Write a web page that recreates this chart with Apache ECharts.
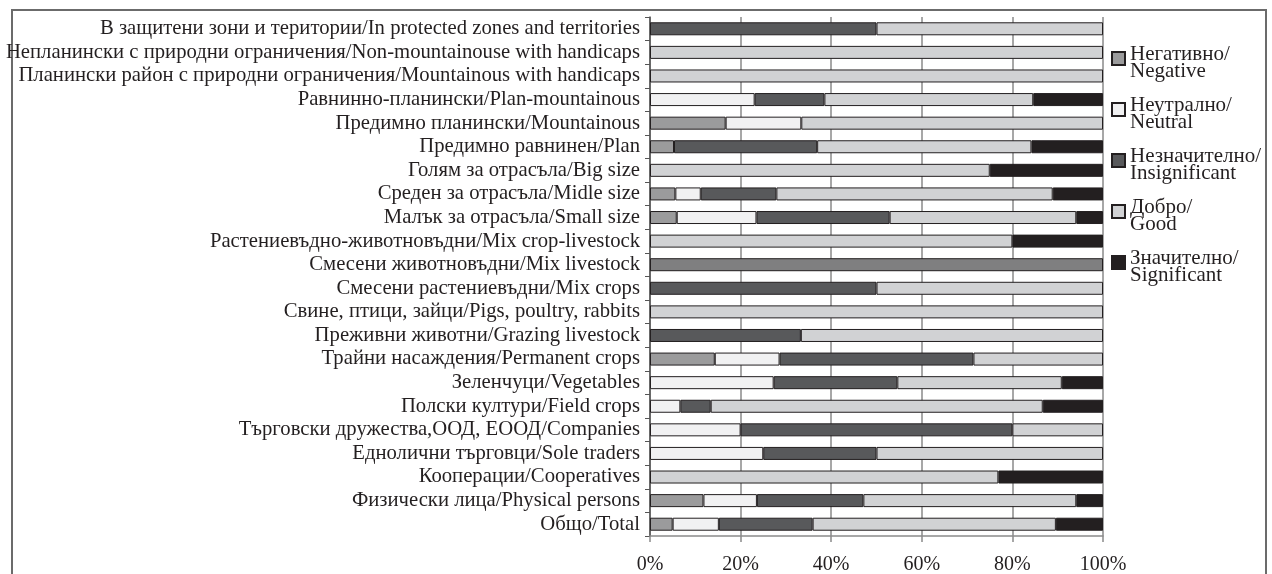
<!DOCTYPE html>
<html>
<head>
<meta charset="utf-8">
<script src="https://cdn.jsdelivr.net/npm/echarts@6/dist/echarts.min.js"></script>
<style>
html,body{margin:0;padding:0;background:#fff;}
#frame{position:absolute;left:11px;top:9px;width:1256px;height:600px;border:2px solid #6b6b6b;box-sizing:border-box;}
#chart{position:absolute;left:0;top:0;width:1272px;height:574px;}
</style>
</head>
<body>
<div id="frame"></div>
<div id="chart"></div>
<script>
// Categories, top to bottom
const categories = [
  'В защитени зони и територии/In protected zones and territories',
  'Непланински с природни ограничения/Non-mountainouse with handicaps',
  'Планински район с природни ограничения/Mountainous with handicaps',
  'Равнинно-планински/Plan-mountainous',
  'Предимно планински/Mountainous',
  'Предимно равнинен/Plan',
  'Голям за отрасъла/Big size',
  'Среден за отрасъла/Midle size',
  'Малък за отрасъла/Small size',
  'Растениевъдно-животновъдни/Mix crop-livestock',
  'Смесени животновъдни/Mix livestock',
  'Смесени растениевъдни/Mix crops',
  'Свине, птици, зайци/Pigs, poultry, rabbits',
  'Преживни животни/Grazing livestock',
  'Трайни насаждения/Permanent crops',
  'Зеленчуци/Vegetables',
  'Полски култури/Field crops',
  'Търговски дружества,ООД, ЕООД/Companies',
  'Еднолични търговци/Sole traders',
  'Кооперации/Cooperatives',
  'Физически лица/Physical persons',
  'Общо/Total'
];
const seriesNames = ['Негативно/\nNegative', 'Неутрално/\nNeutral', 'Незначително/\nInsignificant', 'Добро/\nGood', 'Значително/\nSignificant'];
const negative      = [0, 0, 0, 0, 16.7, 5.3, 0, 5.6, 5.9, 0, 0, 0, 0, 0, 14.3, 0, 0, 0, 0, 0, 11.8, 5.0];
const neutral       = [0, 0, 0, 23.1, 16.7, 0, 0, 5.6, 17.6, 0, 0, 0, 0, 0, 14.3, 27.3, 6.7, 20, 25, 0, 11.8, 10.2];
const insignificant = [50, 0, 0, 15.4, 0, 31.6, 0, 16.7, 29.4, 0, 100, 50, 0, 33.3, 42.8, 27.3, 6.7, 60, 25, 0, 23.5, 20.7];
const good          = [50, 100, 100, 46.1, 66.6, 47.3, 75, 61.0, 41.2, 80, 0, 50, 100, 66.7, 28.6, 36.3, 73.3, 20, 50, 76.9, 47.0, 53.7];
const significant   = [0, 0, 0, 15.4, 0, 15.8, 25, 11.1, 5.9, 20, 0, 0, 0, 0, 0, 9.1, 13.3, 0, 0, 23.1, 5.9, 10.4];
const xTicks = [0, 20, 40, 60, 80, 100];

const colors = ['#9b9b9c', '#f1f1f2', '#58595b', '#d1d2d4', '#231f20'];
const specialColor = {10: '#7f7f80'}; // Mix livestock bar shade
const font = 'Liberation Serif';
const values = [negative, neutral, insignificant, good, significant];

const chart = echarts.init(document.getElementById('chart'), null, {renderer: 'canvas'});
const iconPath = 'path://M0,0L0,0M0,7L13,7L13,20L0,20ZM0,36L0,36';

const series = seriesNames.map((name, si) => ({
  name: name,
  type: 'bar',
  stack: 'total',
  barWidth: 13,
  itemStyle: {color: colors[si], borderColor: '#231f20', borderWidth: 1},
  emphasis: {disabled: true},
  data: values[si].map((v, i) => {
    if (!v) return null;
    if (si === 2 && specialColor[i]) return {value: v, itemStyle: {color: specialColor[i]}};
    return v;
  })
}));

chart.setOption({
  animation: false,
  color: colors,
  grid: {left: 650, right: 169, top: 17, bottom: 38, containLabel: false, outerBoundsMode: 'none'},
  legend: {
    orient: 'vertical',
    left: 1111,
    top: 44,
    padding: 0,
    itemWidth: 13,
    itemHeight: 36,
    itemGap: 13,
    icon: iconPath,
    selectedMode: false,
    textStyle: {fontFamily: font, fontSize: 21, lineHeight: 17, color: '#231f20'},
    data: seriesNames
  },
  xAxis: {
    type: 'value',
    min: 0,
    max: 100,
    interval: 20,
    axisLine: {show: true, lineStyle: {color: '#8a8a8a', width: 1.5}},
    axisTick: {show: true, length: 6, lineStyle: {color: '#8a8a8a', width: 1.5}},
    splitLine: {show: true, lineStyle: {color: '#8a8a8a', width: 1.5}},
    axisLabel: {
      margin: 19,
      fontFamily: font,
      fontSize: 20,
      color: '#231f20',
      formatter: v => xTicks.indexOf(v) >= 0 ? v + '%' : ''
    }
  },
  yAxis: {
    type: 'category',
    inverse: true,
    data: categories,
    axisLine: {show: true, lineStyle: {color: '#555', width: 1.5}},
    axisTick: {show: true, length: 5, lineStyle: {color: '#555', width: 1}},
    axisLabel: {interval: 0, margin: 10, fontFamily: font, fontSize: 20.7, color: '#231f20'}
  },
  series: series
});
</script>
</body>
</html>
